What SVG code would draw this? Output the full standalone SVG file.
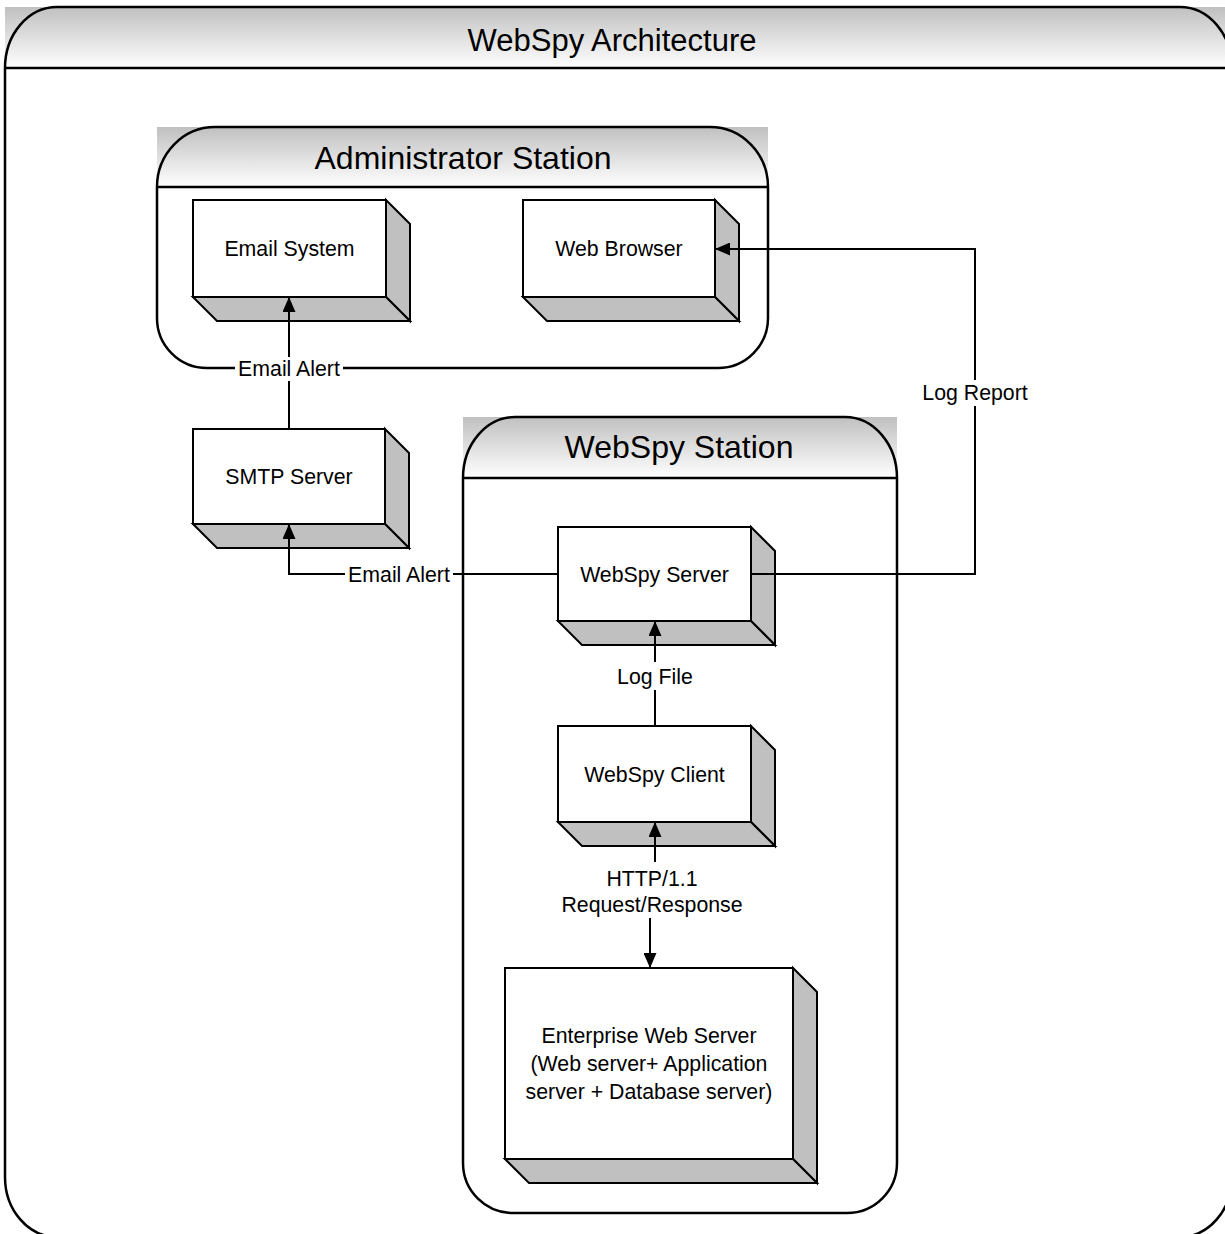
<svg xmlns="http://www.w3.org/2000/svg" width="1225" height="1234" viewBox="0 0 1225 1234">
<defs>
<linearGradient id="hdr" x1="0" y1="0" x2="0" y2="1">
<stop offset="0" stop-color="#c0c0c0"/>
<stop offset="1" stop-color="#ffffff"/>
</linearGradient>
<marker id="arr" markerUnits="userSpaceOnUse" markerWidth="15" markerHeight="13" refX="15" refY="6.5" orient="auto-start-reverse" viewBox="0 0 15 13">
<path d="M0,0 L15,6.5 L0,13 Z" fill="#000"/>
</marker>
</defs>
<style>
.frame{fill:none;stroke:#000;stroke-width:2.5}
.face{fill:#fff;stroke:#000;stroke-width:2}
.side{fill:#c0c0c0;stroke:#000;stroke-width:2;stroke-linejoin:miter}
.conn{fill:none;stroke:#000;stroke-width:2}
.t{font-family:"Liberation Sans",Arial,sans-serif;font-size:21.3px;fill:#000;text-anchor:middle}
.title{font-family:"Liberation Sans",Arial,sans-serif;font-size:31px;fill:#000;text-anchor:middle}
.stitle{font-family:"Liberation Sans",Arial,sans-serif;font-size:32px;fill:#000;text-anchor:middle}
.lbg{fill:#fff}
</style>
<rect width="1225" height="1234" fill="#fff"/>

<g id="architecture">
<rect x="5" y="7" width="1227" height="61" fill="url(#hdr)"/>
<path class="frame" d="M5,68 A52,61 0 0 1 57,7 H1180 A52,61 0 0 1 1232,68 V1177 A52,60 0 0 1 1180,1237 H57 A52,60 0 0 1 5,1177 Z"/>
<line class="frame" x1="5" y1="68" x2="1232" y2="68"/>
<text class="title" x="612" y="51">WebSpy Architecture</text>
</g>

<g id="admin-station">
<rect x="157" y="127" width="611" height="60" fill="url(#hdr)"/>
<path class="frame" d="M157,187 A58,60 0 0 1 215,127 H710 A58,60 0 0 1 768,187 V318 A50,50 0 0 1 718,368 H207 A50,50 0 0 1 157,318 Z"/>
<line class="frame" x1="157" y1="187" x2="768" y2="187"/>
<text class="stitle" x="463" y="169">Administrator Station</text>
</g>

<g id="webspy-station">
<rect x="463" y="417" width="434" height="61" fill="url(#hdr)"/>
<path class="frame" d="M463,478 A52,61 0 0 1 515,417 H845 A52,61 0 0 1 897,478 V1163 A50,50 0 0 1 847,1213 H513 A50,50 0 0 1 463,1163 Z"/>
<line class="frame" x1="463" y1="478" x2="897" y2="478"/>
<text class="stitle" x="679" y="458">WebSpy Station</text>
</g>

<g id="email-system">
<polygon class="side" points="386,200 410,224 410,321 386,297"/>
<polygon class="side" points="193,297 217,321 410,321 386,297"/>
<rect class="face" x="193" y="200" width="193" height="97"/>
<text class="t" x="289.5" y="256">Email System</text>
</g>

<g id="web-browser">
<polygon class="side" points="715,200 739,224 739,321 715,297"/>
<polygon class="side" points="523,297 547,321 739,321 715,297"/>
<rect class="face" x="523" y="200" width="192" height="97"/>
<text class="t" x="619" y="256">Web Browser</text>
</g>

<g id="smtp-server">
<polygon class="side" points="385,429 409,453 409,548 385,524"/>
<polygon class="side" points="193,524 217,548 409,548 385,524"/>
<rect class="face" x="193" y="429" width="192" height="95"/>
<text class="t" x="289" y="484">SMTP Server</text>
</g>

<g id="webspy-server">
<polygon class="side" points="751,527 775,551 775,645 751,621"/>
<polygon class="side" points="558,621 582,645 775,645 751,621"/>
<rect class="face" x="558" y="527" width="193" height="94"/>
<text class="t" x="654.5" y="582">WebSpy Server</text>
</g>

<g id="webspy-client">
<polygon class="side" points="751,726 775,750 775,846 751,822"/>
<polygon class="side" points="558,822 582,846 775,846 751,822"/>
<rect class="face" x="558" y="726" width="193" height="96"/>
<text class="t" x="654.5" y="782">WebSpy Client</text>
</g>

<g id="enterprise-web-server">
<polygon class="side" points="793,968 817,992 817,1183 793,1159"/>
<polygon class="side" points="505,1159 529,1183 817,1183 793,1159"/>
<rect class="face" x="505" y="968" width="288" height="191"/>
<text class="t" x="649" y="1043">Enterprise Web Server</text>
<text class="t" x="649" y="1071">(Web server+ Application</text>
<text class="t" x="649" y="1099">server + Database server)</text>
</g>

<g id="connectors">
<path class="conn" d="M289,429 V297" marker-end="url(#arr)"/>
<path class="conn" d="M558,574 H289 V524" marker-end="url(#arr)"/>
<path class="conn" d="M751,574 H975 V249 H715" marker-end="url(#arr)"/>
<path class="conn" d="M655,726 V621" marker-end="url(#arr)"/>
<path class="conn" d="M655,822 V893 H650 V968" marker-start="url(#arr)" marker-end="url(#arr)"/>

<rect class="lbg" x="235" y="357" width="108" height="24"/>
<text class="t" x="289" y="376">Email Alert</text>
<rect class="lbg" x="345" y="562" width="108" height="24"/>
<text class="t" x="399" y="582">Email Alert</text>
<rect class="lbg" x="919" y="380" width="112" height="26"/>
<text class="t" x="975" y="400">Log Report</text>
<rect class="lbg" x="614" y="662" width="82" height="28"/>
<text class="t" x="655" y="684">Log File</text>
<rect class="lbg" x="558" y="862" width="188" height="56"/>
<text class="t" x="652" y="886">HTTP/1.1</text>
<text class="t" x="652" y="912">Request/Response</text>
</g>
</svg>
